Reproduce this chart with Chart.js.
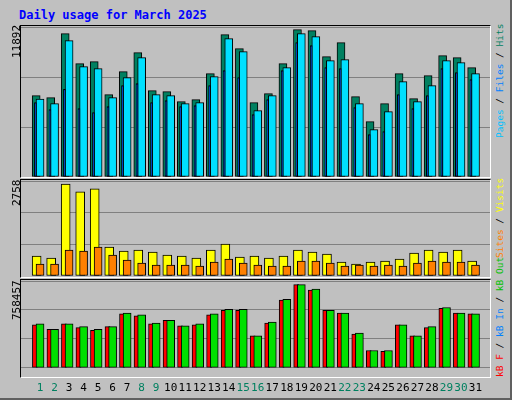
<!DOCTYPE html>
<html>
<head>
<meta charset="utf-8">
<script src="https://cdn.jsdelivr.net/npm/chart.js@4"></script>
<style>
  body{margin:0;background:#fff;}
  #page{position:relative;width:510px;height:398px;background:#c0c0c0;border-right:2px solid #606060;border-bottom:2px solid #606060;font-family:"DejaVu Sans Mono",monospace;}
  .panel{position:absolute;left:20px;width:469px;border-top:1px solid #000;border-left:1px solid #000;border-right:1px solid #fff;border-bottom:1px solid #fff;}
  canvas{position:absolute;}
  .vl{position:absolute;transform-origin:0 0;transform:rotate(-90deg);white-space:nowrap;font-size:11px;}
  .vr{font-size:9.5px;}
</style>
</head>
<body>
<div id="page">
  <div style="position:absolute;left:19px;top:8px;color:#0000ff;font-weight:bold;font-size:12px;">Daily usage for March 2025</div>
  <div class="panel" style="top:25px;height:151px;"></div>
  <div class="panel" style="top:179px;height:97px;"></div>
  <div class="panel" style="top:279px;height:97px;"></div>
  <canvas id="c1" width="469" height="150" style="left:21px;top:27px;"></canvas>
  <canvas id="c2" width="469" height="95" style="left:21px;top:181px;"></canvas>
  <canvas id="c3" width="469" height="120" style="left:21px;top:281px;"></canvas>
  <div class="vl" style="left:10px;top:58px;">11892</div>
  <div class="vl" style="left:10px;top:206px;">2758</div>
  <div class="vl" style="left:10px;top:320px;">758457</div>
  <div class="vl vr" style="left:494px;top:138px;"><span style="color:#00c0ff">Pages</span> / <span style="color:#0080ff">Files</span> / <span style="color:#008060">Hits</span></div>
  <div class="vl vr" style="left:494px;top:258px;"><span style="color:#ff8000">Sites</span> / <span style="color:#ffff00">Visits</span></div>
  <div class="vl vr" style="left:494px;top:377px;"><span style="color:#ff0000">kB F</span> / <span style="color:#0080ff">kB In</span> / <span style="color:#00c000">kB Out</span></div>
</div>
<script>
var days = [];
for (var i = 1; i <= 31; i++) days.push(i);
var weekendDays = [1, 2, 8, 9, 15, 16, 22, 23, 29, 30];

var hits = [6565, 6400, 11570, 9150, 9310, 6645, 8500, 10035, 6970, 6885, 6080, 6240, 8340, 11485, 10355, 6000,
  6725, 9150, 11892, 11810, 9710, 10840, 6485, 4465, 5920, 8340, 6320, 8180, 9790, 9630, 8825];
var files = [6295, 5920, 11000, 8900, 8745, 6400, 8015, 9630, 6645, 6565, 5920, 6000, 8100, 11165, 10115, 5355,
  6565, 8825, 11570, 11325, 9390, 9470, 5920, 3820, 5270, 7695, 6080, 7370, 9390, 9225, 8340];
var pages = [6000, 5435, 7075, 5515, 5190, 5675, 7370, 7530, 6000, 6160, 5675, 5755, 7370, 8580, 8015, 5030,
  6240, 8580, 10840, 10600, 8825, 8745, 5595, 3415, 3660, 6645, 5515, 6565, 8745, 8420, 7855];
var visits = [600, 540, 2758, 2520, 2610, 870, 750, 780, 720, 630, 600, 540, 780, 960, 570, 600,
  540, 600, 780, 720, 660, 420, 360, 420, 450, 510, 690, 780, 720, 780, 450];
var sites = [360, 360, 780, 750, 870, 630, 480, 390, 330, 330, 330, 300, 420, 510, 390, 330,
  300, 300, 450, 450, 390, 300, 330, 300, 330, 300, 390, 450, 420, 420, 330];
var kbF = [391700, 350000, 400000, 367000, 342000, 375000, 492000, 475000, 400000, 433000, 383000, 392000, 483000, 525000, 525000, 292000,
  408000, 617000, 758457, 708000, 525000, 500000, 308000, 158000, 150000, 392000, 292000, 367000, 542000, 500000, 492000];
var kbOut = [400000, 350000, 400000, 375000, 350000, 375000, 500000, 483000, 408000, 433000, 383000, 400000, 492000, 533000, 533000, 292000,
  417000, 625000, 758457, 717000, 525000, 500000, 317000, 158000, 158000, 392000, 292000, 375000, 550000, 500000, 492000];
var kbIn = days.map(function(){ return 0; });

Chart.defaults.font.family = '"DejaVu Sans Mono", monospace';

function series(vals, shift, color, width) {
  return {
    data: vals.map(function(v, i){ return {x: days[i] + shift / 15, y: v}; }),
    backgroundColor: color,
    borderColor: '#000',
    borderWidth: 1,
    borderSkipped: false,
    barThickness: width,
    grouped: false
  };
}

function panel(id, sets, max, showX) {
  new Chart(document.getElementById(id), {
    type: 'bar',
    data: {datasets: sets},
    options: {
      responsive: false,
      animation: false,
      layout: {padding: 0},
      plugins: {legend: {display: false}, tooltip: {enabled: false}},
      scales: {
        x: {
          type: 'linear', min: 0.343, max: 31.61, display: showX,
          grid: {display: false}, border: {display: false},
          afterBuildTicks: function(s){ s.ticks = days.map(function(d){ return {value: d + 0.13}; }); },
          ticks: {
            padding: 6, maxRotation: 0, autoSkip: false,
            font: {size: 11},
            callback: function(v){ return Math.round(v - 0.13); },
            color: function(c){ return weekendDays.indexOf(Math.round(c.tick.value - 0.13)) >= 0 ? '#008060' : '#000'; }
          }
        },
        y: {
          min: 0, max: max,
          ticks: {display: false, stepSize: max / 3},
          grid: {color: '#808080', drawTicks: false},
          border: {display: false},
          afterFit: function(s){ s.width = 0; }
        }
      }
    }
  });
}

// first dataset is painted on top
panel('c1', [
  series(pages, -2.8, '#0040ff', 2),
  series(files, 2, '#00e0ff', 8),
  series(hits, -2, '#008060', 8)
], 12102, false);
panel('c2', [
  series(sites, 2, '#ff8000', 8),
  series(visits, -1.5, '#ffff00', 9)
], 2848, false);
panel('c3', [
  series(kbIn, -1, '#0080ff', 2),
  series(kbOut, 2, '#00e000', 8),
  series(kbF, -3.3, '#ff0000', 5)
], 791800, true);
</script>
</body>
</html>
